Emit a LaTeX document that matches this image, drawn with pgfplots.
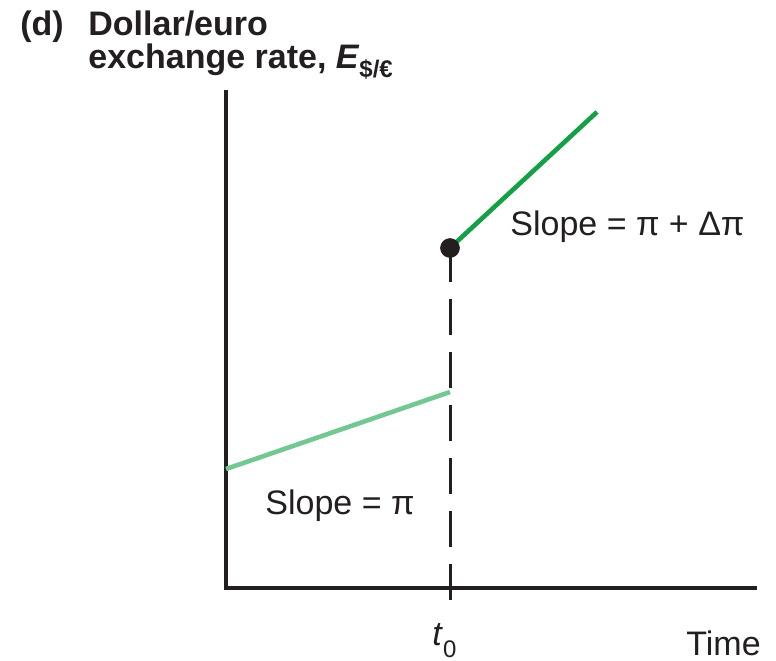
\documentclass[border=0pt]{standalone}
\usepackage{pgfplots}
\pgfplotsset{compat=1.18}
\usepackage{fontspec}
\setmainfont{Liberation Sans}
\definecolor{ink}{RGB}{35,31,32}
\definecolor{darkgr}{RGB}{20,160,70}
\definecolor{lightgr}{RGB}{115,200,145}
\begin{document}
\begin{tikzpicture}
\begin{axis}[
  scale only axis,
  width=265.5pt, height=249pt,
  xmin=226, xmax=757,
  ymin=0, ymax=498,
  axis lines=none,
  clip=false,
  font=\fontsize{17}{20}\selectfont,
]
% bounding box of the whole figure
\path (axis cs:0,-72) rectangle (axis cs:776,588);

% axes
\addplot[ink, line width=2pt, line join=miter] coordinates {(226,498) (226,0) (757,0)};

% dashed line at t0
\addplot[ink, line width=1.5pt, dash pattern=on 18pt off 8.5pt] coordinates {(450,-12) (450,340)};

% before t0
\addplot[lightgr, line width=2.3pt] coordinates {(226,119) (450,196)};

% after t0
\addplot[darkgr, line width=2.3pt] coordinates {(450,340) (597,476)};
\addplot[ink, only marks, mark=*, mark size=4.7pt] coordinates {(450,340)};

% labels
\node[anchor=base west, inner sep=0, text=ink, font=\fontsize{17}{20}\selectfont\bfseries] at (axis cs:20,553) {(d)};
\node[anchor=base west, inner sep=0, text=ink, font=\fontsize{17}{20}\selectfont\bfseries] at (axis cs:88,553) {Dollar/euro};
\node[anchor=base west, inner sep=0, text=ink, font=\fontsize{17}{20}\selectfont\bfseries] at (axis cs:88,520)
  {exchange rate, \textit{E}\raisebox{-5pt}{\fontsize{12}{12}\selectfont\$/€}};
\node[anchor=base west, inner sep=0, text=ink] at (axis cs:510,353) {Slope = π + Δπ};
\node[anchor=base west, inner sep=0, text=ink] at (axis cs:265,74) {Slope = π};
\node[anchor=base west, inner sep=0, text=ink] at (axis cs:432,-57) {\textit{t}\raisebox{-6pt}{\fontsize{12}{12}\selectfont 0}};
\node[anchor=base west, inner sep=0, text=ink] at (axis cs:686,-67) {Time};
\end{axis}
\end{tikzpicture}
\end{document}
